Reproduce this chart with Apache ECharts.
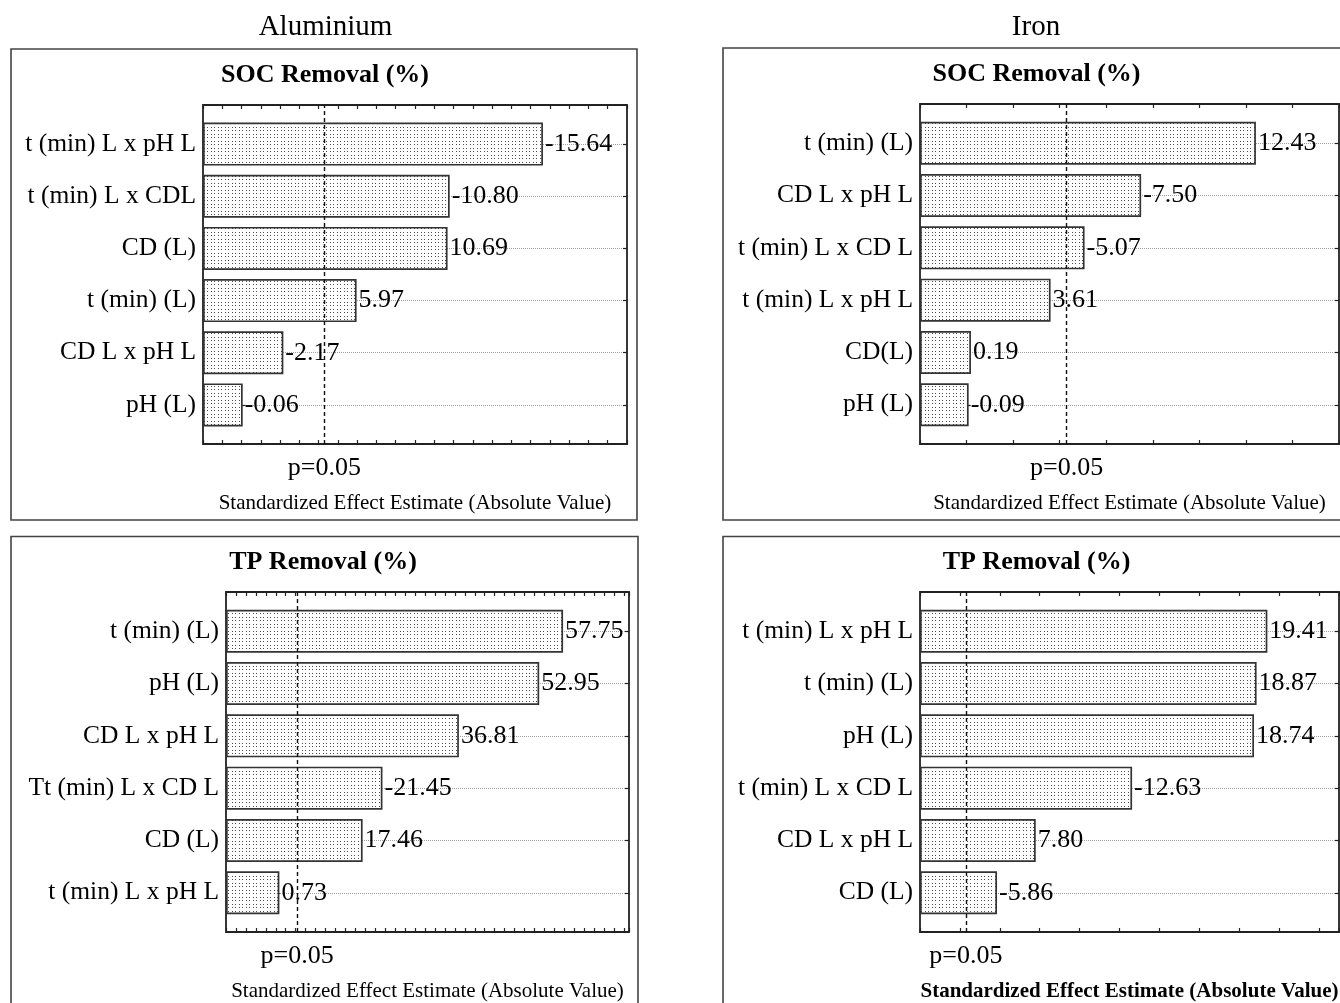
<!DOCTYPE html>
<html>
<head>
<meta charset="utf-8">
<script src="https://cdn.jsdelivr.net/npm/echarts@6/dist/echarts.min.js"></script>
<style>
html,body{margin:0;padding:0;background:#fff;}
#chart{width:1340px;height:1003px;}
</style>
</head>
<body>
<div id="chart"></div>
<script>
// ---------- data ----------
const alSocCategories = ['t (min) L x pH L', 't (min) L x CDL', 'CD (L)', 't (min) (L)', 'CD L x pH L', 'pH (L)'];
const alSocEffects = [-15.64, -10.80, 10.69, 5.97, -2.17, -0.06];

const feSocCategories = ['t (min) (L)', 'CD L x pH L', 't (min) L x CD L', 't (min) L x pH L', 'CD(L)', 'pH (L)'];
const feSocEffects = [12.43, -7.50, -5.07, 3.61, 0.19, -0.09];

const alTpCategories = ['t (min) (L)', 'pH (L)', 'CD L x pH L', 'Tt (min) L x CD L', 'CD (L)', 't (min) L x pH L'];
const alTpEffects = [57.75, 52.95, 36.81, -21.45, 17.46, 0.73];

const feTpCategories = ['t (min) L x pH L', 't (min) (L)', 'pH (L)', 't (min) L x CD L', 'CD L x pH L', 'CD (L)'];
const feTpEffects = [19.41, 18.87, 18.74, -12.63, 7.80, -5.86];

const columnHeaders = ['Aluminium', 'Iron'];
const panelTitles = ['SOC Removal (%)', 'SOC Removal (%)', 'TP Removal (%)', 'TP Removal (%)'];
const axisTitle = 'Standardized Effect Estimate (Absolute Value)';
const pLabel = 'p=0.05';
const pCritical = 4.303;
const axisMin = [-2, -2, -10, 2];
const axisMax = [20, 16, 71, 23];
const tickStep = [1, 2, 2, 2];

// ---------- layout / style ----------
const FONT = "'Liberation Serif','Times New Roman',serif";
const panels = [
  {cats: alSocCategories, vals: alSocEffects, frame: {left: 203, top: 105, width: 424, height: 339}, box: [11, 49, 626, 471], cx: 325, boldName: false},
  {cats: feSocCategories, vals: feSocEffects, frame: {left: 920, top: 104, width: 419, height: 340}, box: [723, 48, 700, 472], cx: 1036.5, boldName: false},
  {cats: alTpCategories, vals: alTpEffects, frame: {left: 226, top: 592, width: 403, height: 340}, box: [11, 536.5, 627, 500], cx: 323, boldName: false},
  {cats: feTpCategories, vals: feTpEffects, frame: {left: 920, top: 592, width: 419, height: 340}, box: [723, 536.5, 700, 500], cx: 1036.5, boldName: true}
];

function dotPattern() {
  const c = document.createElement('canvas');
  c.width = 7; c.height = 7;
  const g = c.getContext('2d');
  g.fillStyle = '#ffffff';
  g.fillRect(0, 0, 7, 7);
  g.fillStyle = '#4a4a4a';
  [1, 4].forEach(x => [1, 4].forEach(y => g.fillRect(x, y, 1, 1)));
  return c;
}
const pattern = {image: dotPattern(), repeat: 'repeat'};

const grid = [], xAxis = [], yAxis = [], series = [], title = [], elements = [];

columnHeaders.forEach((h, i) => {
  title.push({
    text: h, left: i === 0 ? 325.5 : 1036, top: 27, textAlign: 'center', textVerticalAlign: 'middle', padding: 0,
    textStyle: {fontFamily: FONT, fontSize: 29, fontWeight: 'normal', color: '#000'}
  });
});

panels.forEach((p, i) => {
  const f = p.frame;
  const band = f.height / 6.5;
  elements.push({
    type: 'rect', silent: true,
    shape: {x: p.box[0], y: p.box[1], width: p.box[2], height: p.box[3]},
    style: {fill: 'none', stroke: '#444', lineWidth: 1.6}
  });
  title.push({
    text: panelTitles[i], left: p.cx, top: f.top - 29.5, textAlign: 'center', textVerticalAlign: 'middle', padding: 0,
    textStyle: {fontFamily: FONT, fontSize: 26, fontWeight: 'bold', color: '#000'}
  });

  const gF = grid.length;
  grid.push({left: f.left, top: f.top, width: f.width, height: f.height, show: true,
    borderColor: '#222', borderWidth: 1.8, backgroundColor: 'transparent', containLabel: false, outerBoundsMode: 'none'});
  const gB = grid.length;
  grid.push({left: f.left, top: f.top + 0.75 * band, width: f.width, height: 5 * band, containLabel: false, outerBoundsMode: 'none'});

  const tick = {show: true, inside: true, length: 4, lineStyle: {color: '#222', width: 1.2}};
  const xF = xAxis.length;
  xAxis.push({
    type: 'value', gridIndex: gF, position: 'bottom', min: axisMin[i], max: axisMax[i], interval: tickStep[i],
    axisLine: {show: false}, axisTick: tick, axisLabel: {show: false}, splitLine: {show: false},
    name: axisTitle, nameLocation: 'middle', nameGap: 49,
    nameTextStyle: {fontFamily: FONT, fontSize: 21, color: '#000', fontWeight: p.boldName ? 'bold' : 'normal'}
  });
  xAxis.push({
    type: 'value', gridIndex: gF, position: 'top', min: axisMin[i], max: axisMax[i], interval: tickStep[i],
    axisLine: {show: false}, axisTick: tick, axisLabel: {show: false}, splitLine: {show: false}
  });
  const xB = xAxis.length;
  xAxis.push({type: 'value', gridIndex: gB, min: axisMin[i], max: axisMax[i], startValue: axisMin[i], show: false,
    splitLine: {show: false}});

  const yF = yAxis.length;
  yAxis.push({type: 'value', gridIndex: gF, min: 0, max: 1, show: false, splitLine: {show: false}});
  const yB = yAxis.length;
  yAxis.push({
    type: 'category', gridIndex: gB, data: p.cats, inverse: true, boundaryGap: false,
    axisLine: {show: false}, axisTick: Object.assign({interval: 0}, tick),
    axisLabel: {interval: 0, fontFamily: FONT, fontSize: 25.5, color: '#000', margin: 7},
    splitLine: {show: false}
  });
  yAxis.push({
    type: 'category', gridIndex: gB, data: p.cats, inverse: true, boundaryGap: false, position: 'right',
    axisLine: {show: false}, axisTick: Object.assign({interval: 0}, tick), axisLabel: {show: false},
    splitLine: {show: true, interval: 0, lineStyle: {type: 'dotted', color: '#a0a0a0', width: 1}}
  });

  series.push({
    type: 'bar', xAxisIndex: xB, yAxisIndex: yB, data: p.vals.map(v => Math.abs(v)),
    barWidth: 43, clip: false, z: 3,
    itemStyle: {color: pattern, borderColor: '#333', borderWidth: 1.7},
    label: {show: true, position: 'right', distance: 2, fontFamily: FONT, fontSize: 26, color: '#000',
      formatter: (params) => p.vals[params.dataIndex].toFixed(2)},
    emphasis: {disabled: true}
  });
  series.push({
    type: 'line', xAxisIndex: xF, yAxisIndex: yF, data: [], z: 4,
    markLine: {
      silent: true, symbol: ['none', 'none'], animation: false,
      lineStyle: {color: '#111', type: [4, 3], width: 1.4},
      label: {show: true, position: 'start', formatter: pLabel, fontFamily: FONT, fontSize: 26, color: '#000', distance: 11},
      data: [{xAxis: pCritical}]
    }
  });
});

const chart = echarts.init(document.getElementById('chart'));
chart.setOption({
  animation: false,
  backgroundColor: '#fff',
  title: title,
  grid: grid,
  xAxis: xAxis,
  yAxis: yAxis,
  series: series,
  graphic: {elements: elements}
});
</script>
</body>
</html>
